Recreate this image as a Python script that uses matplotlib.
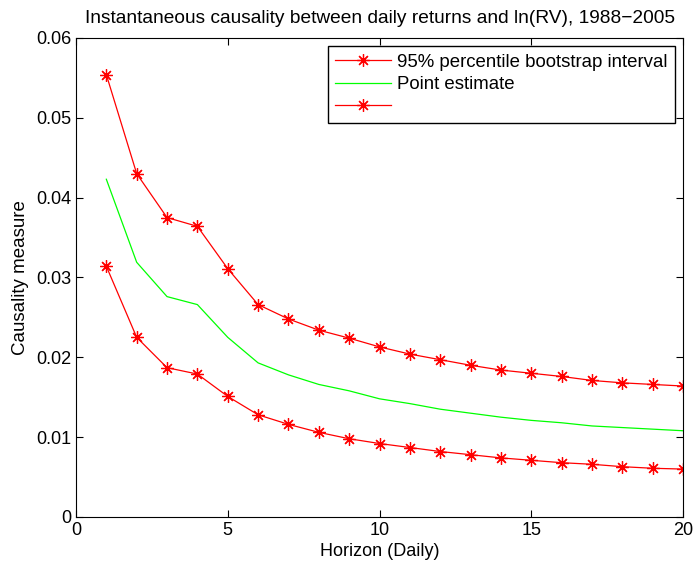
import numpy as np
import matplotlib.pyplot as plt

plt.rcParams['font.family'] = ['Liberation Sans', 'DejaVu Sans']

# -----------------------------
# Data
# -----------------------------
horizon = np.arange(1, 21)

upper = [0.0554, 0.0430, 0.0375, 0.0364, 0.0311, 0.0266, 0.0248, 0.0234, 0.0224, 0.0213,
         0.0204, 0.0197, 0.0190, 0.0184, 0.0180, 0.0176, 0.0171, 0.0168, 0.0166, 0.0164]
point = [0.0423, 0.0319, 0.0276, 0.0266, 0.0225, 0.0193, 0.0178, 0.0166, 0.0158, 0.0148,
         0.0142, 0.0135, 0.0130, 0.0125, 0.0121, 0.0118, 0.0114, 0.0112, 0.0110, 0.0108]
lower = [0.0314, 0.0225, 0.0187, 0.0179, 0.0151, 0.0128, 0.0116, 0.0106, 0.0098, 0.0092,
         0.0087, 0.0082, 0.0078, 0.0074, 0.0071, 0.0068, 0.0066, 0.0063, 0.0061, 0.0060]

labels = ['95% percentile bootstrap interval', 'Point estimate', '']

# -----------------------------
# Figure
# -----------------------------
fig = plt.figure(figsize=(6.97, 5.71), dpi=100)
ax = fig.add_axes([0.109, 0.0946, 0.871, 0.839])

star = (8, 2, 0)  # matlab-style asterisk
h1, = ax.plot(horizon, upper, color='#ff0000', marker=star, markersize=9, lw=0.9, mew=0.9)
h2, = ax.plot(horizon, point, color='#00ff00', lw=0.9)
h3, = ax.plot(horizon, lower, color='#ff0000', marker=star, markersize=9, lw=0.9, mew=0.9)

ax.set_xlim(0, 20)
ax.set_ylim(0, 0.06)
ax.set_xticks([0, 5, 10, 15, 20])
ax.set_yticks([0, 0.01, 0.02, 0.03, 0.04, 0.05, 0.06])
ax.set_yticklabels(['0', '0.01', '0.02', '0.03', '0.04', '0.05', '0.06'])
ax.tick_params(direction='in', top=True, right=True, labelsize=13, length=5)

ax.set_xlabel('Horizon (Daily)', fontsize=13, labelpad=3)
ax.set_ylabel('Causality measure', fontsize=13.5, labelpad=5)
ax.set_title('Instantaneous causality between daily returns and ln(RV), 1988\u22122005',
             fontsize=13.8, pad=11)

leg = ax.legend([h1, h2, h3], labels, loc='upper right', fontsize=13.4,
                fancybox=False, edgecolor='black', framealpha=1,
                handlelength=3.0, handletextpad=0.3, labelspacing=0.3,
                borderpad=0.4, borderaxespad=0.45)
leg.get_frame().set_linewidth(1)

plt.savefig('out.png', dpi=100)
